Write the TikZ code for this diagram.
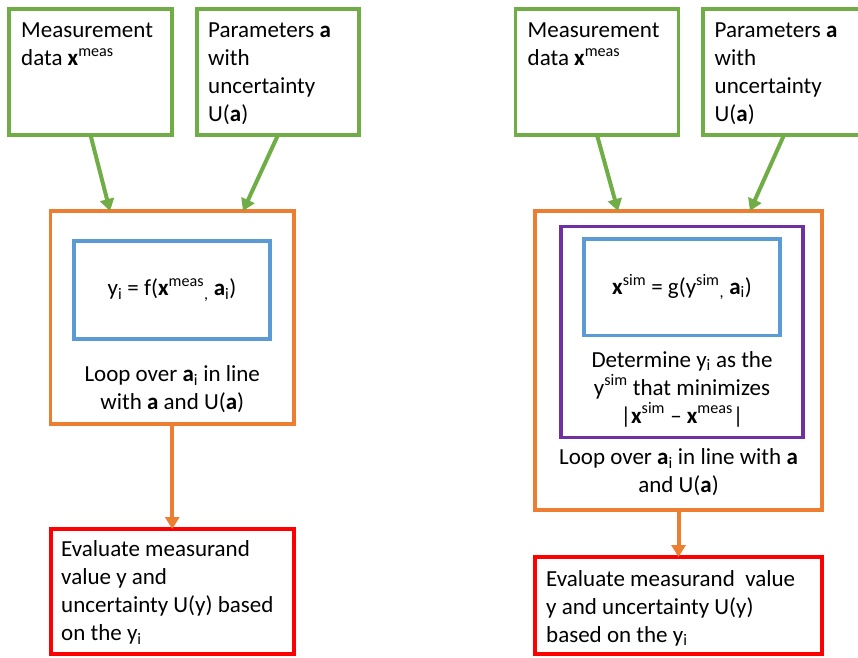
\documentclass[tikz,border=0pt]{standalone}
\usepackage{fontspec}
\setmainfont{Carlito}
\usepackage{tikz}
\usetikzlibrary{positioning,arrows.meta}
\usepackage{xcolor}
\definecolor{datagreen}{HTML}{70AD47}
\definecolor{looporange}{HTML}{ED7D31}
\definecolor{modelblue}{HTML}{5B9BD5}
\definecolor{minpurple}{HTML}{7030A0}
\definecolor{evalred}{HTML}{FF0000}

\begin{document}
\begin{tikzpicture}[x=1pt, y=-1pt, every node/.style={font=\fontsize{23}{28}\selectfont}]
\tikzstyle{box}=[draw, line width=3.5pt, outer sep=0pt, inner sep=0pt]
\tikzstyle{txt}=[inner sep=0pt, align=left]
\tikzstyle{arr}=[line width=4pt, -{Triangle[width=14pt, length=12pt]}]
\useasboundingbox (0,0) rectangle (858,657);
\clip (0,0) rectangle (858,657);
% left: y_i evaluated directly
\node[box, draw=datagreen, minimum width=163pt, minimum height=126pt] (meas1) at (90.5,72) {};
\node[box, draw=datagreen, minimum width=162pt, minimum height=126pt, right=25pt of meas1] (par1) {};
\node[box, draw=looporange, minimum width=243.5pt, minimum height=213pt] (loop1) at (172.25,317.5) {};
\node[box, draw=modelblue, minimum width=196pt, minimum height=98pt] (model1) at (172,290)
  {y\textsubscript{i} = f(\textbf{x}\textsuperscript{meas}\textsubscript{,} \textbf{a}\textsubscript{i})};
\node[box, draw=evalred, line width=4pt, minimum width=243.5pt, minimum height=125pt, below=105pt of loop1] (eval1) {};
\node[txt, anchor=north west] (meas1t) at ([shift={(12,13.5)}]meas1.north west) {Measurement\\data \textbf{x}\textsuperscript{meas}};
\node[txt, anchor=north west] (par1t) at ([shift={(11,13.5)}]par1.north west) {Parameters \textbf{a}\\with\\uncertainty\\U(\textbf{a})};
\node[txt, align=center, anchor=south] (loop1t) at ([shift={(0,-11)}]loop1.south) {Loop over \textbf{a}\textsubscript{i} in line\\with \textbf{a} and U(\textbf{a})};
\node[txt, anchor=north west] (eval1t) at ([shift={(10.5,11.5)}]eval1.north west) {Evaluate measurand\\value y and\\uncertainty U(y) based\\on the y\textsubscript{i}};
\draw[arr, color=datagreen] (meas1.south) -- ([shift={(-62.25,0)}]loop1.north);
\draw[arr, color=datagreen] (par1.south) -- ([shift={(70.75,0)}]loop1.north);
\draw[arr, color=looporange] (loop1.south) -- (eval1.north);
% right: y_i found by minimising the mismatch
\node[box, draw=datagreen, minimum width=163pt, minimum height=126pt] (meas2) at (597,72) {};
\node[box, draw=datagreen, minimum width=162pt, minimum height=126pt, right=24.5pt of meas2] (par2) {};
\node[box, draw=looporange, minimum width=287pt, minimum height=299pt] (loop2) at (678.5,360.5) {};
\node[box, draw=minpurple, minimum width=242pt, minimum height=211pt] (min2) at (682,332) {};
\node[box, draw=modelblue, minimum width=196pt, minimum height=96.5pt] (model2) at (682,287)
  {\textbf{x}\textsuperscript{sim} = g(y\textsuperscript{sim}\textsubscript{,} \textbf{a}\textsubscript{i})};
\node[box, draw=evalred, line width=4pt, minimum width=287pt, minimum height=97pt, below=47pt of loop2] (eval2) {};
\node[txt, anchor=north west] (meas2t) at ([shift={(12,13.5)}]meas2.north west) {Measurement\\data \textbf{x}\textsuperscript{meas}};
\node[txt, anchor=north west] (par2t) at ([shift={(11.5,13.5)}]par2.north west) {Parameters \textbf{a}\\with\\uncertainty\\U(\textbf{a})};
\node[txt, align=center, anchor=south] (min2t) at ([shift={(0,-10.5)}]min2.south) {Determine y\textsubscript{i} as the\\y\textsuperscript{sim} that minimizes\\|\textbf{x}\textsuperscript{sim} -- \textbf{x}\textsuperscript{meas}|};
\node[txt, align=center, anchor=south] (loop2t) at ([shift={(0,-14)}]loop2.south) {Loop over \textbf{a}\textsubscript{i} in line with \textbf{a}\\and U(\textbf{a})};
\node[txt, anchor=north west] (eval2t) at ([shift={(11,13)}]eval2.north west) {Evaluate measurand~ value\\y and uncertainty U(y)\\based on the y\textsubscript{i}};
\draw[arr, color=datagreen] (meas2.south) -- ([shift={(-60.5,0)}]loop2.north);
\draw[arr, color=datagreen] (par2.south) -- ([shift={(71.5,0)}]loop2.north);
\draw[arr, color=looporange] (loop2.south) -- (eval2.north);
\end{tikzpicture}
\end{document}
